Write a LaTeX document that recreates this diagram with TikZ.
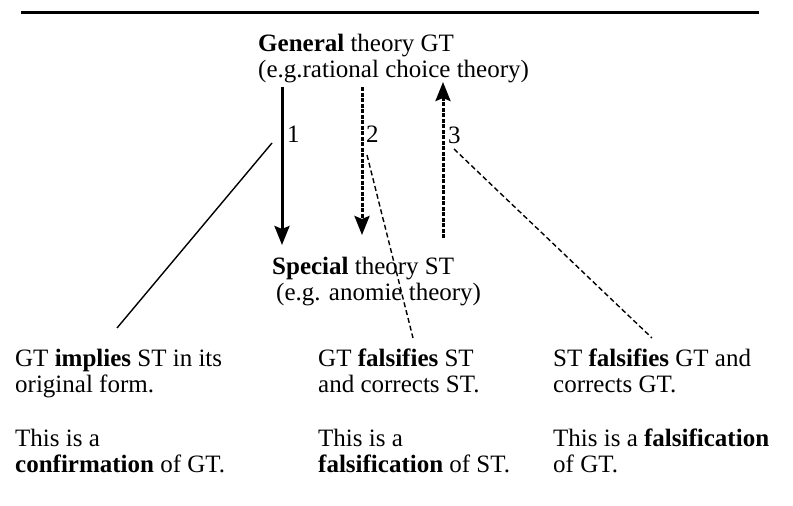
\documentclass[tikz,border=0pt]{standalone}
\usepackage{fontspec}
\setmainfont{Liberation Serif}
\usetikzlibrary{arrows.meta,positioning}

\begin{document}
\begin{tikzpicture}[x=1pt, y=-1pt,
    txt/.style={align=left, inner sep=0pt, anchor=base west, font=\fontsize{25}{25.5}\selectfont},
    num/.style={inner sep=0pt, anchor=base west, font=\fontsize{25}{25.5}\selectfont},
    bigarrow/.style={line width=3pt, -{Stealth[length=19pt, width=15pt, inset=3pt]}},
    dasharrow/.style={bigarrow, dash pattern=on 4pt off 1.5pt},
    link/.style={line width=1.4pt},
    dashlink/.style={link, dash pattern=on 5pt off 3pt}
]
    \useasboundingbox (0,0) rectangle (793,506);
    \draw[line width=3pt] (21,12) -- (759,12);

    % anchor base = last line
    \node[txt] (gt) at (258,77) {\textbf{General} theory GT\\(e.g.rational choice theory)};
    \node[txt] (st) at (272,300) {\textbf{Special} theory ST\\\hspace*{4pt}(e.g. anomie theory)};

    \node[num] (n1) at (287,142) {1};
    \node[num] (n2) at (366,142) {2};
    \node[num] (n3) at (448,143) {3};

    \node[txt] (c1) at (15,472) {GT \textbf{implies} ST in its\\original form.\\[29pt]This is a\\\textbf{confirmation} of GT.};
    \node[txt] (c2) at (318,472) {GT \textbf{falsifies} ST\\and corrects ST.\\[29pt]This is a\\\textbf{falsification} of ST.};
    \node[txt] (c3) at (553,472) {ST \textbf{falsifies} GT and\\corrects GT.\\[29pt]This is a \textbf{falsification}\\of GT.};

    % arrow ends
    \coordinate (a1) at (282,87);  \coordinate (b1) at (282,245);
    \coordinate (a2) at (362,87);  \coordinate (b2) at (362,235);
    \coordinate (a3) at (443,238); \coordinate (b3) at (443,82);
    \draw[bigarrow] (a1) -- (b1);
    \draw[dasharrow] (a2) -- (b2);
    \draw[dasharrow] (a3) -- (b3);

    % links to the cases
    \coordinate (s1) at (272,143); \coordinate (e1) at (117,328);
    \coordinate (s2) at (367,155); \coordinate (e2) at (413,338);
    \coordinate (s3) at (454,149); \coordinate (e3) at (652,338);
    \draw[link] (s1) -- (e1);
    \draw[dashlink] (s2) -- (e2);
    \draw[dashlink] (s3) -- (e3);
\end{tikzpicture}
\end{document}
